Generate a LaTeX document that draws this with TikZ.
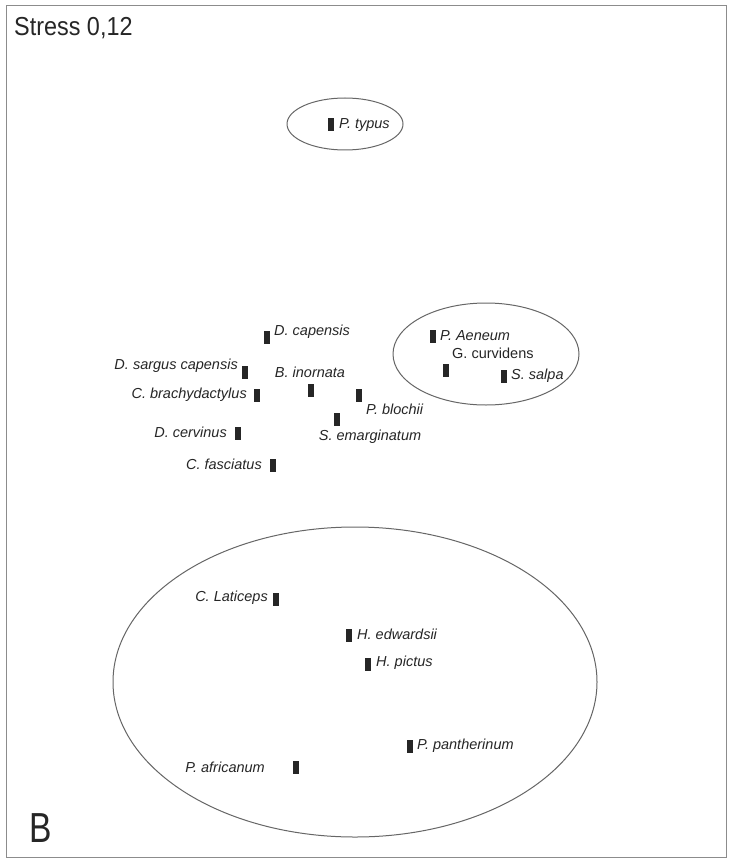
\documentclass[tikz,border=0pt]{standalone}
\usepackage{fontspec}
\setmainfont{Liberation Sans}
\begin{document}
\begin{tikzpicture}[x=1pt,y=-1pt,
  mk/.style={rectangle,fill=black!85,draw=none,minimum width=6pt,minimum height=13pt,inner sep=0pt},
  lbl/.style={inner sep=0pt,font=\fontsize{14.5}{15}\selectfont\itshape,text=black!85},
  grp/.style={draw=black!60,line width=1pt}]
\useasboundingbox (0,0) rectangle (737,861);
\fill[white] (0,0) rectangle (737,861);
\draw[black!45,line width=1pt] (6,6) rectangle (726,857);
\node[anchor=west,inner sep=0pt,font=\fontsize{26}{28}\selectfont,text=black!85] (stress) at (14,28) {\scalebox{0.9}[1]{Stress 0,12}};
\node[anchor=west,inner sep=0pt,font=\fontsize{42}{44}\selectfont,text=black!85] (B) at (29,828) {\scalebox{0.8}[1]{B}};
% group ellipses
\draw[grp] (345,124) ellipse [x radius=58, y radius=26];
\draw[grp] (486,354) ellipse [x radius=93, y radius=51];
\draw[grp] (355,682) ellipse [x radius=242, y radius=155];
% markers
\node[mk] (typ) at (331,125) {};
\node[mk] (dcap) at (267,337) {};
\node[mk] (dsar) at (245,372) {};
\node[mk] (binor) at (311,390) {};
\node[mk] (cbra) at (257,395) {};
\node[mk] (pblo) at (359,395) {};
\node[mk] (sema) at (337,419) {};
\node[mk] (dcer) at (238,433) {};
\node[mk] (cfas) at (273,465) {};
\node[mk] (paen) at (433,336) {};
\node[mk] (gcur) at (446,370) {};
\node[mk] (ssal) at (504,376) {};
\node[mk] (clat) at (276,599) {};
\node[mk] (hedw) at (349,635) {};
\node[mk] (hpic) at (368,664) {};
\node[mk] (ppan) at (410,746) {};
\node[mk] (pafr) at (296,767) {};
% labels
\node[lbl,anchor=west] (ltyp) at (339,125) {P. typus};
\node[lbl,anchor=west] (ldcap) at (274,332) {D. capensis};
\node[lbl,anchor=east] (ldsar) at (238,366) {D. sargus capensis};
\node[lbl] (lbinor) at (310,372) {B. inornata};
\node[lbl,anchor=east] (lcbra) at (247,395) {C. brachydactylus};
\node[lbl,anchor=west] (lpblo) at (366,409) {P. blochii};
\node[lbl] (lsema) at (370,437) {S. emarginatum};
\node[lbl,anchor=east] (ldcer) at (227,432) {D. cervinus};
\node[lbl,anchor=east] (lcfas) at (262,464) {C. fasciatus};
\node[lbl,anchor=west] (lpaen) at (440,336) {P. Aeneum};
\node[lbl,anchor=west,font=\fontsize{14.5}{15}\selectfont] (lgcur) at (452,353) {G. curvidens};
\node[lbl,anchor=west] (lssal) at (511,376) {S. salpa};
\node[lbl,anchor=east] (lclat) at (268,598) {C. Laticeps};
\node[lbl,anchor=west] (lhedw) at (357,634) {H. edwardsii};
\node[lbl,anchor=west] (lhpic) at (376,663) {H. pictus};
\node[lbl,anchor=west] (lppan) at (417,746) {P. pantherinum};
\node[lbl,anchor=east] (lpafr) at (265,767) {P. africanum};
\end{tikzpicture}
\end{document}
